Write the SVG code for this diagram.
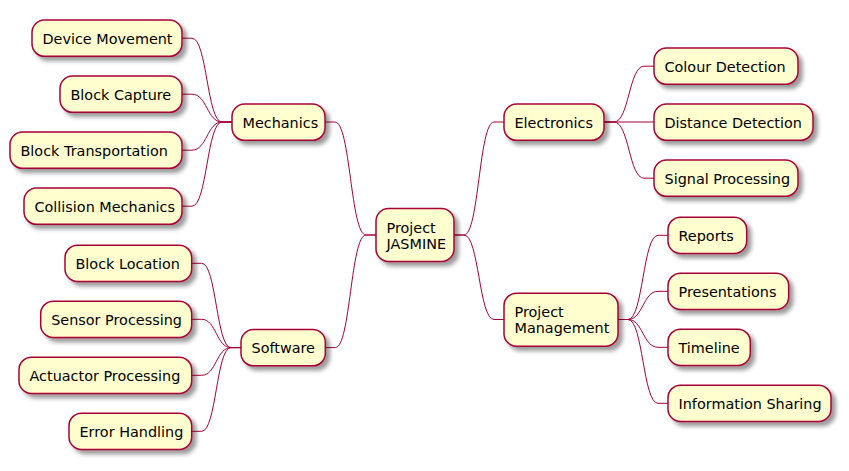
<svg xmlns="http://www.w3.org/2000/svg" width="849" height="471" viewBox="0 0 849 471">
<defs>
<filter id="sh" x="-1" y="-1" width="300%" height="300%">
<feGaussianBlur result="b1" stdDeviation="2"/>
<feColorMatrix in="b1" result="b2" type="matrix" values="0 0 0 0 0 0 0 0 0 0 0 0 0 0 0 0 0 0 .4 0"/>
<feOffset dx="4" dy="4" in="b2" result="b3"/>
<feBlend in="SourceGraphic" in2="b3" mode="normal"/>
</filter>
<style>
.n rect{fill:#FEFECE;stroke:#A80036;stroke-width:1.5;filter:url(#sh)}
.n text{font-family:"DejaVu Sans",sans-serif;font-size:14.4px;fill:#000}
.c path{fill:none;stroke:#A80036;stroke-width:1}
</style>
</defs>
<rect width="849" height="471" fill="#FFFFFF"/>
<g id="connectors" class="c">
<path d="M325,122 L335,122 C350.5,122 350.5,235 366,235 L376,235"/>
<path d="M325.3,347.6 L335.3,347.6 C350.6,347.6 350.6,235 366,235 L376,235"/>
<path d="M454,235 L464,235 C479,235 479,122 494,122 L504,122"/>
<path d="M454,235 L464,235 C479,235 479,319.5 494,319.5 L504,319.5"/>
<path d="M182,38.2 L192,38.2 C207,38.2 207,122 222,122 L232,122"/>
<path d="M182,94.2 L192,94.2 C207,94.2 207,122 222,122 L232,122"/>
<path d="M182,150.2 L192,150.2 C207,150.2 207,122 222,122 L232,122"/>
<path d="M182,206.2 L192,206.2 C207,206.2 207,122 222,122 L232,122"/>
<path d="M191.7,263.3 L201.7,263.3 C216.3,263.3 216.3,347.6 231,347.6 L241,347.6"/>
<path d="M191.7,319.3 L201.7,319.3 C216.3,319.3 216.3,347.6 231,347.6 L241,347.6"/>
<path d="M191.7,375.3 L201.7,375.3 C216.3,375.3 216.3,347.6 231,347.6 L241,347.6"/>
<path d="M191.7,431.3 L201.7,431.3 C216.3,431.3 216.3,347.6 231,347.6 L241,347.6"/>
<path d="M604,122 L614,122 C629,122 629,66.2 644,66.2 L654,66.2"/>
<path d="M604,122 L654,122"/>
<path d="M604,122 L614,122 C629,122 629,178.2 644,178.2 L654,178.2"/>
<path d="M618,319.5 L628,319.5 C643,319.5 643,235.3 658,235.3 L668,235.3"/>
<path d="M618,319.5 L628,319.5 C643,319.5 643,291.3 658,291.3 L668,291.3"/>
<path d="M618,319.5 L628,319.5 C643,319.5 643,347.3 658,347.3 L668,347.3"/>
<path d="M618,319.5 L628,319.5 C643,319.5 643,403.3 658,403.3 L668,403.3"/>
</g>
<g id="root" class="n"><rect x="376" y="208.5" width="78" height="53" rx="12.5"/><text x="386.5" y="232.5">Project</text><text x="386.5" y="248.7">JASMINE</text></g>
<g id="mechanics" class="n"><rect x="232" y="104" width="93" height="36.3" rx="12.5"/><text x="242.5" y="127.5">Mechanics</text></g>
<g id="software" class="n"><rect x="241" y="329.5" width="84.3" height="36.3" rx="12.5"/><text x="251.5" y="353">Software</text></g>
<g id="electronics" class="n"><rect x="504" y="104" width="100" height="36.3" rx="12.5"/><text x="514.5" y="127.5">Electronics</text></g>
<g id="pm" class="n"><rect x="504" y="293.2" width="114" height="53" rx="12.5"/><text x="514.5" y="316.8">Project</text><text x="514.5" y="333">Management</text></g>
<g id="device-movement" class="n"><rect x="32" y="20" width="150" height="36.3" rx="12.5"/><text x="42.5" y="43.5">Device Movement</text></g>
<g id="block-capture" class="n"><rect x="60" y="76" width="122" height="36.3" rx="12.5"/><text x="70.5" y="99.5">Block Capture</text></g>
<g id="block-transportation" class="n"><rect x="10" y="132" width="172" height="36.3" rx="12.5"/><text x="20.5" y="155.5">Block Transportation</text></g>
<g id="collision-mechanics" class="n"><rect x="24" y="188" width="158" height="36.3" rx="12.5"/><text x="34.5" y="211.5">Collision Mechanics</text></g>
<g id="block-location" class="n"><rect x="65" y="245.2" width="126.7" height="36.3" rx="12.5"/><text x="75.5" y="268.7">Block Location</text></g>
<g id="sensor-processing" class="n"><rect x="40.7" y="301.2" width="151" height="36.3" rx="12.5"/><text x="51.2" y="324.7">Sensor Processing</text></g>
<g id="actuactor-processing" class="n"><rect x="19" y="357.2" width="172.7" height="36.3" rx="12.5"/><text x="29.5" y="380.7">Actuactor Processing</text></g>
<g id="error-handling" class="n"><rect x="69" y="413.2" width="122.7" height="36.3" rx="12.5"/><text x="79.5" y="436.7">Error Handling</text></g>
<g id="colour-detection" class="n"><rect x="654" y="48" width="144" height="36.3" rx="12.5"/><text x="664.5" y="71.5">Colour Detection</text></g>
<g id="distance-detection" class="n"><rect x="654" y="104" width="159" height="36.3" rx="12.5"/><text x="664.5" y="127.5">Distance Detection</text></g>
<g id="signal-processing" class="n"><rect x="654" y="160" width="144" height="36.3" rx="12.5"/><text x="664.5" y="183.5">Signal Processing</text></g>
<g id="reports" class="n"><rect x="668" y="217.2" width="78.7" height="36.3" rx="12.5"/><text x="678.5" y="240.7">Reports</text></g>
<g id="presentations" class="n"><rect x="668" y="273.2" width="120.7" height="36.3" rx="12.5"/><text x="678.5" y="296.7">Presentations</text></g>
<g id="timeline" class="n"><rect x="668" y="329.2" width="82.3" height="36.3" rx="12.5"/><text x="678.5" y="352.7">Timeline</text></g>
<g id="information-sharing" class="n"><rect x="668" y="385.2" width="163" height="36.3" rx="12.5"/><text x="678.5" y="408.7">Information Sharing</text></g>
</svg>
